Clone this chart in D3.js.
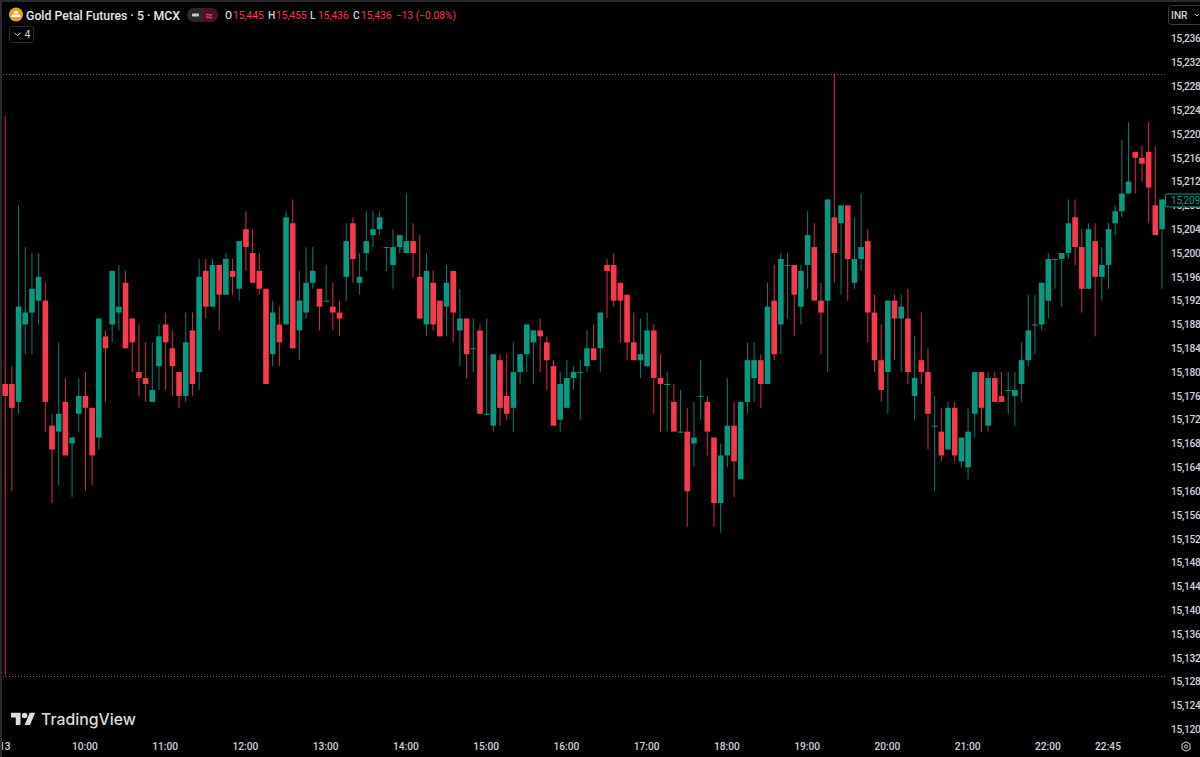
<!DOCTYPE html>
<html>
<head>
<meta charset="utf-8">
<script src="https://d3js.org/d3.v7.min.js"></script>
<style>
  html, body { margin: 0; padding: 0; background: #000; overflow: hidden; }
  text { font-family: "Roboto", "Liberation Sans", sans-serif; }
</style>
</head>
<body>
<div id="chart"></div>
<script>
// 5 minute bars
const opens = [15178,15178,15175,15188,15190,15192,15192,15171,15170,15175,15168,15173,15176,15174,15169,15186,15188,15190,15195,15189,
  15180,15179,15175,15181,15188,15184,15180,15176,15187,15180,15197,15191,15198,15193,15197,15194,15204,15200,15197,15194,
  15183,15188,15188,15205,15187,15190,15195,15194,15192,15191,15190,15196,15205,15195,15200,15203,15204,15201,15198,15201,
  15200,15202,15196,15188,15195,15192,15191,15197,15187,15189,15184,15187,15173,15171,15182,15176,15174,15180,15183,15185,
  15187,15185,15181,15172,15174,15179,15180,15181,15184,15184,15198,15198,15195,15193,15185,15182,15181,15187,15179,15178,
  15175,15170,15170,15168,15176,15175,15169,15158,15166,15171,15162,15175,15179,15182,15178,15192,15188,15198,15198,15191,
  15198,15201,15192,15192,15206,15205,15208,15195,15199,15202,15190,15182,15180,15192,15189,15189,15176,15182,15180,15171,
  15170,15167,15174,15165,15164,15173,15180,15171,15179,15176,15177,15176,15178,15182,15188,15188,15192,15199,15199,15200,
  15206,15201,15194,15202,15196,15198,15205,15207,15210,15217,15216,15217,15208,15204];
const highs = [15223,15181,15208,15201,15200,15200,15195,15173,15185,15179,15169,15179,15180,15174,15189,15187,15197,15198,15197,15189,
  15188,15185,15185,15188,15190,15187,15180,15190,15190,15199,15199,15199,15198,15200,15199,15202,15207,15204,15200,15194,
  15192,15191,15207,15209,15197,15201,15201,15194,15198,15195,15192,15205,15206,15200,15207,15207,15207,15201,15204,15203,
  15210,15205,15203,15200,15197,15192,15198,15197,15194,15189,15189,15188,15189,15183,15183,15183,15185,15183,15188,15187,
  15189,15186,15182,15180,15182,15181,15182,15187,15188,15190,15199,15200,15195,15193,15190,15189,15190,15188,15183,15180,
  15178,15177,15174,15175,15182,15176,15169,15168,15179,15175,15175,15185,15185,15183,15195,15198,15200,15200,15198,15198,
  15207,15205,15195,15209,15230,15208,15208,15206,15210,15204,15193,15188,15192,15193,15193,15194,15186,15190,15184,15176,
  15174,15175,15175,15169,15174,15180,15180,15180,15180,15180,15180,15180,15185,15193,15193,15195,15200,15199,15200,15209,
  15209,15204,15205,15205,15201,15205,15208,15219,15222,15217,15218,15222,15218,15209];
const lows = [15129,15160,15173,15183,15183,15188,15170,15158,15161,15166,15159,15170,15160,15161,15167,15175,15185,15187,15184,15180,
  15176,15175,15175,15177,15177,15176,15174,15175,15176,15177,15189,15191,15187,15193,15193,15192,15197,15195,15193,15178,
  15181,15181,15188,15184,15182,15189,15194,15187,15192,15187,15186,15192,15195,15193,15197,15201,15203,15197,15194,15200,
  15200,15196,15189,15186,15187,15186,15186,15185,15181,15179,15180,15173,15173,15170,15171,15172,15170,15178,15180,15178,
  15180,15177,15171,15170,15174,15177,15172,15180,15182,15180,15189,15191,15185,15182,15182,15179,15181,15173,15170,15170,
  15170,15170,15154,15164,15172,15166,15154,15153,15164,15159,15162,15173,15175,15174,15178,15182,15183,15189,15186,15188,
  15194,15192,15183,15180,15195,15193,15192,15194,15197,15185,15180,15175,15173,15182,15180,15178,15172,15178,15167,15160,
  15165,15167,15165,15164,15162,15169,15170,15170,15175,15175,15173,15171,15175,15181,15183,15187,15189,15194,15191,15199,
  15198,15190,15194,15186,15192,15194,15203,15206,15210,15210,15212,15205,15203,15194];
const closes = [15176,15174,15191,15190,15194,15196,15175,15167,15173,15166,15169,15176,15174,15166,15189,15184,15197,15191,15184,15185,
  15179,15178,15177,15186,15185,15181,15176,15185,15178,15196,15191,15198,15193,15199,15196,15202,15201,15195,15194,15178,
  15190,15185,15206,15184,15192,15195,15197,15191,15192,15190,15189,15202,15199,15196,15202,15204,15206,15201,15201,15203,
  15202,15200,15189,15197,15188,15186,15195,15190,15189,15183,15184,15173,15173,15183,15174,15173,15180,15183,15188,15187,
  15186,15182,15171,15178,15179,15180,15180,15184,15182,15190,15197,15192,15192,15185,15182,15183,15187,15179,15178,15178,
  15170,15170,15160,15169,15176,15170,15158,15166,15171,15165,15175,15182,15182,15178,15191,15183,15199,15198,15193,15197,
  15203,15192,15190,15209,15200,15208,15199,15199,15201,15190,15182,15177,15192,15189,15191,15180,15179,15180,15173,15171,
  15166,15174,15166,15169,15170,15180,15174,15179,15175,15175,15177,15177,15182,15187,15188,15195,15199,15199,15200,15205,
  15201,15194,15204,15196,15198,15204,15207,15210,15212,15216,15215,15211,15203,15209];

const timeIndex = [0, 12, 24, 36, 48, 60, 72, 84, 96, 108, 120, 132, 144, 156, 165];
const timeLabels = ["13", "10:00", "11:00", "12:00", "13:00", "14:00", "15:00", "16:00", "17:00", "18:00", "19:00", "20:00", "21:00", "22:00", "22:45"];
const priceTicks = d3.range(15120, 15237, 4);

const width = 1200, height = 757;
const paneRight = 1166;
const upColor = "#089981", downColor = "#f63a4e";
const textColor = "#d1d4dc";

const x = d3.scaleLinear().domain([0, 173]).range([5.2, 1162]);
const y = d3.scaleLinear().domain([15120, 15236]).range([729.3, 38.7]);
const bars = d3.range(opens.length);
const colour = i => closes[i] >= opens[i] ? upColor : downColor;

const svg = d3.select("#chart").append("svg")
  .attr("width", width)
  .attr("height", height)
  .style("display", "block");

svg.append("rect").attr("width", width).attr("height", height).attr("fill", "#000");

// high / low price lines
svg.selectAll(".hl")
  .data([d3.max(highs), d3.min(lows)])
  .enter().append("line")
  .attr("x1", 0).attr("x2", paneRight)
  .attr("y1", d => Math.round(y(d)) + 0.5).attr("y2", d => Math.round(y(d)) + 0.5)
  .attr("stroke", "#6a6d78").attr("stroke-width", 1).attr("stroke-dasharray", "1,2");

// wicks
svg.selectAll(".wick")
  .data(bars)
  .enter().append("line")
  .attr("x1", d => x(d)).attr("x2", d => x(d))
  .attr("y1", d => y(highs[d])).attr("y2", d => y(lows[d]))
  .attr("stroke", colour).attr("stroke-width", 1).attr("stroke-opacity", 0.85);

// bodies
svg.selectAll(".body")
  .data(bars)
  .enter().append("rect")
  .attr("x", d => x(d) - 2.8)
  .attr("width", 5.6)
  .attr("y", d => y(Math.max(opens[d], closes[d])))
  .attr("height", d => Math.max(1, Math.abs(y(opens[d]) - y(closes[d]))))
  .attr("fill", colour);

// price axis
const yAxis = svg.append("g")
  .attr("transform", "translate(1171,0)")
  .call(d3.axisRight(y).tickValues(priceTicks).tickSize(0).tickPadding(0).tickFormat(d3.format(",")));
yAxis.select(".domain").remove();
yAxis.selectAll("text").attr("fill", textColor)
  .style("font-size", "10.2px").style("font-weight", 500).style("letter-spacing", "-0.3px")
  .style("font-family", "Roboto, sans-serif");

// time axis
const xAxis = svg.append("g")
  .attr("transform", "translate(-1,743)")
  .call(d3.axisBottom(x).tickValues(timeIndex).tickSize(0).tickPadding(0).tickFormat((d, i) => timeLabels[i]));
xAxis.select(".domain").remove();
xAxis.selectAll("text").attr("fill", textColor)
  .style("font-size", "10.2px").style("font-weight", 500)
  .style("font-family", "Roboto, sans-serif");

// last price badge
svg.append("rect").attr("x", 1165.5).attr("y", y(closes[173]) - 5.5).attr("width", 36).attr("height", 13)
  .attr("fill", "#000").attr("stroke", upColor).attr("rx", 1.5);
svg.append("text").attr("x", 1171).attr("y", y(closes[173]) + 4.5)
  .attr("fill", upColor).style("font-size", "10.2px").style("letter-spacing", "-0.3px")
  .text(d3.format(",")(closes[173]));

// header
svg.append("circle").attr("cx", 16).attr("cy", 14.5).attr("r", 7).attr("fill", "#e8a317");
svg.append("path").attr("d", "M11 17h10l-1.5-2.5h-7zM13.5 13.5h5l-1-2.5h-3z").attr("fill", "#fff");
svg.append("text").attr("x", 26).attr("y", 19.5).attr("fill", "#e6e8ee")
  .style("font-size", "12.3px").style("font-weight", 500).text("Gold Petal Futures · 5 · MCX");
svg.append("rect").attr("x", 187).attr("y", 8).attr("width", 31).attr("height", 14).attr("rx", 7).attr("fill", "#2a2a2e");
svg.append("path").attr("d", "M202.5 8h8.5a7 7 0 0 1 0 14h-8.5z").attr("fill", "#4a1226");
svg.append("rect").attr("x", 192).attr("y", 13.5).attr("width", 7).attr("height", 3).attr("rx", 1).attr("fill", "#c8cad0");
svg.append("text").attr("x", 205).attr("y", 19.5).attr("fill", "#f23d6b").style("font-size", "13px").style("font-weight", 700).text("≈");

const ohlcLabels = ["O", "H", "L", "C"];
const ohlcValues = ["15,445", "15,455", "15,436", "15,436"];
const ohlcX = [225, 268, 310, 353];
ohlcLabels.forEach((d, i) => {
  svg.append("text").attr("x", ohlcX[i]).attr("y", 19).attr("fill", textColor)
    .style("font-size", "10.2px").style("font-weight", 500).text(d);
  svg.append("text").attr("x", ohlcX[i] + 8).attr("y", 19).attr("fill", downColor)
    .style("font-size", "10.2px").text(ohlcValues[i]);
});
svg.append("text").attr("x", 396).attr("y", 19).attr("fill", downColor).style("font-size", "10.2px").text("−13 (−0.08%)");

// collapsed indicators button
svg.append("rect").attr("x", 9.5).attr("y", 26.5).attr("width", 24).attr("height", 16).attr("rx", 2)
  .attr("fill", "none").attr("stroke", "#2e2e32");
svg.append("path").attr("d", "M14.5 33l3 2.5 3-2.5").attr("fill", "none").attr("stroke", textColor);
svg.append("text").attr("x", 24.5).attr("y", 38).attr("fill", textColor).style("font-size", "10.5px").text("4");

// currency button
svg.append("rect").attr("x", 1168.5).attr("y", 5.5).attr("width", 34).attr("height", 19).attr("rx", 3)
  .attr("fill", "none").attr("stroke", "#3a3a3e");
svg.append("text").attr("x", 1171).attr("y", 19).attr("fill", textColor)
  .style("font-size", "10.2px").style("font-weight", 500).text("INR");
svg.append("path").attr("d", "M1195 14l2 1.8 2-1.8").attr("fill", "none").attr("stroke", textColor);

// settings icon
svg.append("path").attr("d", "M1182 742l4-2.2 4 2.2v5l-4 2.2-4-2.2z").attr("transform", "translate(0,2)")
  .attr("fill", "none").attr("stroke", textColor);
svg.append("circle").attr("cx", 1186).attr("cy", 746.5).attr("r", 1.6).attr("fill", "none").attr("stroke", textColor);

// watermark
const logo = svg.append("g").attr("transform", "translate(11,708) scale(0.68)").attr("fill", "#dcdcdc");
logo.append("path").attr("d", "M14 25H7V14H0V7h14v18zM28 25h-8l7.5-18h8L28 25z");
logo.append("circle").attr("cx", 20).attr("cy", 11).attr("r", 4);
svg.append("text").attr("x", 41).attr("y", 725).attr("fill", "#dcdcdc")
  .style("font-family", "Inter, sans-serif").style("font-size", "15.8px").style("font-weight", 500).text("TradingView");

// window frame
svg.append("rect").attr("x", 0).attr("y", 0).attr("width", 2).attr("height", height).attr("fill", "#2a2a2a");
svg.append("rect").attr("x", 0).attr("y", 0).attr("width", width).attr("height", 2).attr("fill", "#2a2a2a");
</script>
</body>
</html>
